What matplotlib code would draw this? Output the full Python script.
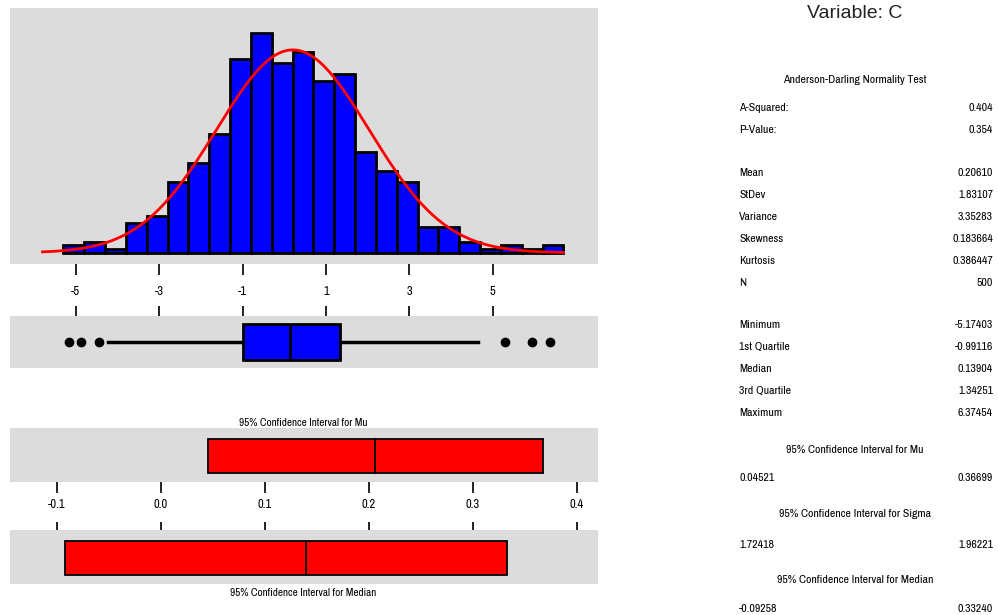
import numpy as np
import matplotlib
matplotlib.use("Agg")
import matplotlib.pyplot as plt

# histogram data (bin width 0.5)
bin_edges = np.arange(-5.3, 6.71, 0.5)
counts = [2, 3, 1, 8, 10, 19, 24, 32, 52, 59, 51, 54, 46, 48, 27, 22, 19, 7, 7, 3, 1, 2, 1, 2]

# summary stats
n_obs = 500
mean_val = 0.20610
sd_val = 1.83107
q1, median_val, q3 = -0.99116, 0.13904, 1.34251
whisker_lo, whisker_hi = -4.24, 4.64
outliers = [-5.17403, -4.88, -4.45, 5.31, 5.95, 6.37454]
ci_mu = (0.04521, 0.36699)
ci_sigma = (1.72418, 1.96221)
ci_median = (-0.09258, 0.33240)

hist_ticks = [-5, -3, -1, 1, 3, 5]
ci_ticks = [-0.1, 0.0, 0.1, 0.2, 0.3, 0.4]
ci_ticklabels = ["-0.1", "0.0", "0.1", "0.2", "0.3", "0.4"]

stat_labels = ["A-Squared:", "P-Value:", "Mean", "StDev", "Variance", "Skewness",
               "Kurtosis", "N", "Minimum", "1st Quartile", "Median", "3rd Quartile", "Maximum"]
stat_values = ["0.404", "0.354", "0.20610", "1.83107", "3.35283", "0.183664",
               "0.386447", "500", "-5.17403", "-0.99116", "0.13904", "1.34251", "6.37454"]
stat_rows_y = [108, 130, 173, 195, 217, 239, 261, 283, 325, 347, 369, 391, 413]

W, H = 998, 615
GRAY = "#dcdcdc"
NARROW = ["Archivo Narrow", "DejaVu Sans"]
plt.rcParams["font.family"] = NARROW

fig = plt.figure(figsize=(W / 100, H / 100), dpi=100)


def px_axes(x0, y0, x1, y1):
    ax = fig.add_axes([x0 / W, 1 - y1 / H, (x1 - x0) / W, (y1 - y0) / H])
    ax.set_facecolor(GRAY)
    for s in ax.spines.values():
        s.set_visible(False)
    ax.set_yticks([])
    return ax


XLIM = (-6.58, 7.53)

# histogram + normal curve
ax1 = px_axes(10, 8, 598, 264)
widths = np.diff(bin_edges)
ax1.bar(bin_edges[:-1], counts, width=widths, align="edge", color="#0000ff",
        edgecolor="black", linewidth=2)
xs = np.linspace(-5.8, 6.7, 300)
pdf = n_obs * 0.5 * np.exp(-0.5 * ((xs - mean_val) / sd_val) ** 2) / (sd_val * np.sqrt(2 * np.pi))
ax1.plot(xs, pdf, color="#ff0000", lw=2)
ax1.set_xlim(*XLIM)
ax1.set_ylim(-3.0, 65.7)
ax1.set_xticks(hist_ticks)
ax1.set_xticklabels([str(t) for t in hist_ticks], fontsize=9)
ax1.tick_params(axis="x", direction="out", length=8, width=1.2, pad=7.5)

# boxplot
ax2 = px_axes(10, 316, 598, 368)
stats = [dict(med=median_val, q1=q1, q3=q3, whislo=whisker_lo, whishi=whisker_hi,
              fliers=outliers)]
ax2.bxp(stats, positions=[0.5], widths=0.68, orientation="horizontal",
        showcaps=False, patch_artist=True,
        boxprops=dict(facecolor="#0000ff", edgecolor="black", linewidth=2),
        medianprops=dict(color="black", linewidth=2),
        whiskerprops=dict(color="black", linewidth=2.5),
        flierprops=dict(marker="o", markerfacecolor="black", markeredgecolor="black",
                        markersize=6))
ax2.set_xlim(*XLIM)
ax2.set_ylim(0, 1)
ax2.set_yticks([])
ax2.xaxis.tick_top()
ax2.set_xticks(hist_ticks)
ax2.set_xticklabels([])
ax2.tick_params(axis="x", direction="out", length=7.5, width=1.2)

# confidence interval for mu
ax3 = px_axes(10, 428, 598, 482)
ax3.barh(0.48, ci_mu[1] - ci_mu[0], left=ci_mu[0], height=0.63, color="#ff0000",
         edgecolor="black", linewidth=1.3)
ax3.plot([mean_val, mean_val], [0.48 - 0.315, 0.48 + 0.315], color="black", lw=1.3)
ax3.set_xlim(-0.1452, 0.4202)
ax3.set_ylim(0, 1)
ax3.set_xticks(ci_ticks)
ax3.set_xticklabels(ci_ticklabels, fontsize=9)
ax3.tick_params(axis="x", direction="out", length=8, width=1.2, pad=4)

# confidence interval for median
ax4 = px_axes(10, 530, 598, 584)
ax4.barh(0.48, ci_median[1] - ci_median[0], left=ci_median[0], height=0.63,
         color="#ff0000", edgecolor="black", linewidth=1.3)
ax4.plot([median_val, median_val], [0.48 - 0.315, 0.48 + 0.315], color="black", lw=1.3)
ax4.set_xlim(-0.1452, 0.4202)
ax4.set_ylim(0, 1)
ax4.xaxis.tick_top()
ax4.set_xticks(ci_ticks)
ax4.set_xticklabels([])
ax4.tick_params(axis="x", direction="out", length=6, width=1.2)

fig.text(303 / W, 1 - 423 / H, "95% Confidence Interval for Mu", ha="center", va="center",
         fontsize=8)
fig.text(303 / W, 1 - 593 / H, "95% Confidence Interval for Median", ha="center",
         va="center", fontsize=8)

# right-hand summary panel
def ftext(x, y, s, **kw):
    fig.text(x / W, 1 - y / H, s, va="center", **kw)


ftext(855, 14, "Variable: C", ha="center", fontsize=14,
      family=["Liberation Sans", "DejaVu Sans"], color="#222222")
ftext(855, 80, "Anderson-Darling Normality Test", ha="center", fontsize=8.5)
for lab, val, y in zip(stat_labels, stat_values, stat_rows_y):
    ftext(739, y, lab, ha="left", fontsize=8.5)
    ftext(993, y, val, ha="right", fontsize=8.5)

ftext(855, 450, "95% Confidence Interval for Mu", ha="center", fontsize=8.5)
ftext(739, 478, f"{ci_mu[0]:.5f}", ha="left", fontsize=8.5)
ftext(993, 478, f"{ci_mu[1]:.5f}", ha="right", fontsize=8.5)
ftext(855, 514, "95% Confidence Interval for Sigma", ha="center", fontsize=8.5)
ftext(739, 545, f"{ci_sigma[0]:.5f}", ha="left", fontsize=8.5)
ftext(993, 545, f"{ci_sigma[1]:.5f}", ha="right", fontsize=8.5)
ftext(855, 580, "95% Confidence Interval for Median", ha="center", fontsize=8.5)
ftext(739, 609, f"{ci_median[0]:.5f}", ha="left", fontsize=8.5)
ftext(993, 609, f"{ci_median[1]:.5f}", ha="right", fontsize=8.5)

fig.savefig("out.png", dpi=100)
